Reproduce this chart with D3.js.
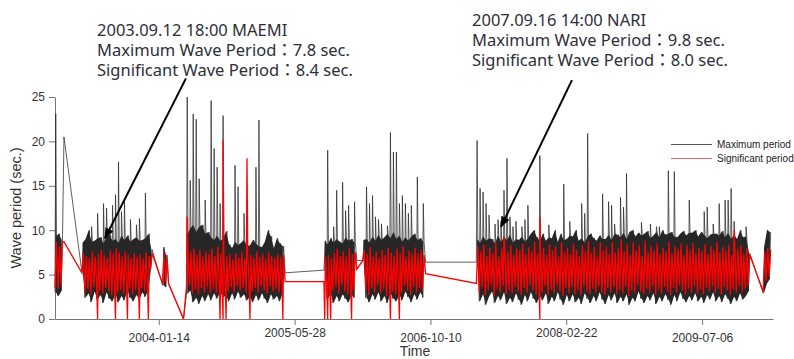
<!DOCTYPE html>
<html>
<head>
    <meta charset="utf-8" />
    <title>Wave period</title>
    <script src="https://d3js.org/d3.v7.min.js"></script>
    <style>
        body { margin: 0; background: #fff; }
        .axis path, .axis line { stroke: #777; }
        .axis text { font-family: "Liberation Sans", Arial, sans-serif; font-size: 12px; fill: #333; }
        .title { font-family: "Liberation Sans", Arial, sans-serif; fill: #333; }
        .maxBand { fill: #000; fill-opacity: 0.85; }
        .maxLine { fill: none; stroke: #2a2a2a; stroke-width: 0.75px; }
        .sigLine { fill: none; stroke: #f00; stroke-width: 1.3px; }
        .note { font-family: "Noto Sans", "Noto Sans CJK KR", sans-serif; font-size: 16.5px; fill: #2e2e38; }
        .legend text { font-family: "Liberation Sans", Arial, sans-serif; font-size: 10px; fill: #222; }
    </style>
</head>
<body>
<svg width="794" height="359"></svg>
<script>
    var _ = null;

    // low / high reading per 11-day bin; null = no record
    var binStart = "2002-12-28";
    var binDays = 11;

    var maxLo = [
        3.0, 2.6, 3.2, 20.5, _, _, _, _, _, 5.3,
        2.4, 2.9, 1.9, 3.1, 2.2, 2.7, 1.8, 3.0, 2.3, 2.0,
        2.8, 1.9, 2.6, 2.1, 3.2, 2.4, 2.0, 2.7, 2.2, 3.0,
        2.5, 3.3, 6.0, _, _, _, 3.8, 3.6, 4.0, _,
        _, _, _, 0, 2.8, 3.2, 1.9, 2.4, 1.7, 2.6,
        2.0, 2.8, 2.1, 2.9, 2.3, 3.0, 2.5, 2.6, 2.0, 2.9,
        2.2, 3.1, 2.4, 2.8, 2.1, 2.5, 1.9, 2.7, 2.1, 2.9,
        2.3, 1.8, 2.8, 2.2, 2.6, 2.0, 3.0, 5.2, _, _,
        _, _, _, _, _, _, _, _, _, _,
        5.5, 2.2, 2.9, 1.8, 2.6, 2.0, 2.8, 2.3, 1.9, 2.7,
        2.4, 6.6, _, 6.6, 2.4, 1.9, 2.8, 2.2, 3.0, 2.0,
        2.6, 1.8, 2.9, 2.3, 2.0, 2.7, 2.1, 3.1, 2.5, 1.9,
        2.8, 2.2, 3.0, 2.4, 6.4, _, _, _, _, _,
        _, _, _, _, _, _, _, _, _, _,
        _, 6.4, 2.0, 2.8, 1.6, 2.5, 3.1, 1.8, 2.6, 2.1,
        3.0, 1.7, 2.4, 1.9, 2.9, 2.2, 1.6, 2.7, 2.0, 3.0,
        2.3, 1.8, 2.6, 2.1, 2.9, 1.7, 2.5, 2.0, 3.0, 2.2,
        1.6, 2.7, 2.0, 2.8, 1.9, 2.4, 1.7, 2.9, 2.3, 1.8,
        2.6, 2.0, 3.0, 2.2, 1.7, 2.7, 2.1, 2.9, 1.8, 2.5,
        2.0, 2.8, 1.6, 2.4, 2.0, 3.1, 2.3, 1.8, 2.6, 2.1,
        2.9, 1.7, 2.5, 2.0, 2.8, 2.2, 1.6, 2.7, 2.0, 3.0,
        2.3, 1.9, 2.6, 2.1, 2.9, 2.0, 2.5, 1.8, 2.7, 2.2,
        3.0, 2.0, 2.6, 1.9, 2.8, 2.3, 1.7, 2.5, 2.0, 2.9,
        2.2, 2.6, 3.2, _, _, _, _, 2.9, 4.0, 4.5
    ];

    var maxHi = [
        9.3, 9.6, 8.9, _, _, _, _, _, _, 8.6,
        9.0, 10.0, 8.7, 8.8, 9.1, 9.2, 8.5, 9.3, 9.5, 8.8,
        9.0, 8.6, 9.4, 8.9, 9.4, 8.7, 9.0, 9.2, 8.8, 8.9,
        9.1, 9.6, 7.8, _, _, _, 8.1, 7.2, _, _,
        _, _, _, _, 9.4, 10.2, 10.6, 9.8, 10.4, 10.6,
        9.6, 9.8, 9.2, 8.9, 9.4, 8.8, 9.0, 9.9, 8.4, 8.0,
        8.7, 8.3, 8.6, 8.9, 8.2, 8.3, 8.9, 8.5, 8.2, 8.1,
        8.7, 10.0, 9.3, 8.0, 9.1, 8.5, 8.2, _, _, _,
        _, _, _, _, _, _, _, _, _, _,
        8.8, 8.4, 9.1, 8.6, 9.0, 8.7, 8.5, 9.2, 8.8, 9.0,
        8.6, _, _, 8.9, 9.0, 8.6, 9.3, 8.8, 9.5, 8.9,
        9.2, 9.6, 9.1, 9.8, 9.0, 9.4, 8.7, 9.2, 8.8, 9.3,
        9.6, 8.9, 9.1, 8.7, _, _, _, _, _, _,
        _, _, _, _, _, _, _, _, _, _,
        _, 9.0, 8.6, 9.3, 8.8, 9.1, 9.0, 8.5, 9.4, 8.7,
        9.2, 8.9, 9.5, 8.6, 9.0, 8.9, 9.3, 8.7, 9.1, 9.6,
        10.0, 9.2, 8.8, 9.6, 8.8, 9.2, 9.1, 10.0, 8.7, 9.6,
        8.9, 9.0, 9.4, 9.3, 10.0, 8.8, 9.1, 8.6, 9.3, 9.6,
        9.1, 8.8, 9.4, 9.0, 9.0, 9.5, 8.9, 9.6, 9.5, 9.2,
        9.7, 9.0, 9.8, 10.0, 9.3, 9.7, 9.4, 9.6, 9.9, 9.1,
        9.4, 9.8, 9.2, 10.0, 9.5, 9.6, 9.8, 9.3, 9.2, 9.6,
        9.9, 9.4, 9.7, 9.7, 10.0, 9.3, 9.8, 9.5, 9.1, 9.5,
        9.6, 9.6, 9.4, 9.9, 9.2, 9.7, 9.0, 9.5, 9.0, 10.0,
        9.2, 9.3, 7.4, _, _, _, _, 8.0, 10.0, 9.8
    ];

    // isolated peaks of the maximum period: [bin, seconds]
    var maxSpikes = [
        [0, 23.1], [12, 10.4], [14, 11.9], [16, 13.0], [17, 12.5], [19, 12.8], [20, 14.0], [21, 17.7],
        [22, 12.1], [23, 13.2], [25, 11.2], [27, 10.6], [28, 11.3], [30, 14.2],
        [44, 25.0], [45, 15.6], [46, 23.1], [47, 22.5], [48, 15.8], [50, 13.4], [52, 24.6], [53, 19.2],
        [54, 17.1], [55, 13.0], [56, 22.9], [60, 17.3], [61, 14.9], [63, 11.9], [67, 17.1], [68, 22.4],
        [91, 19.0], [93, 10.4], [94, 14.5], [96, 15.4], [97, 12.2], [98, 12.8], [100, 13.2],
        [104, 14.9], [105, 13.0], [106, 13.9], [107, 11.5], [108, 11.2], [109, 10.7], [111, 10.5],
        [112, 21.0], [113, 18.8], [114, 18.8], [115, 13.0], [116, 13.9], [117, 13.0], [118, 11.9],
        [119, 12.8], [121, 16.0], [123, 13.0],
        [141, 20.1], [142, 14.7], [143, 14.3], [144, 13.0], [145, 11.7], [147, 10.7], [148, 11.2],
        [149, 11.0], [150, 14.5], [151, 18.1], [152, 11.5], [153, 10.4], [154, 11.0], [156, 10.4],
        [157, 11.2], [158, 12.8], [162, 18.4], [165, 10.6], [170, 15.2], [172, 11.0], [176, 13.0],
        [177, 11.9], [178, 20.9], [183, 14.1], [185, 13.2], [186, 12.8], [187, 10.7], [189, 13.7],
        [190, 12.6], [191, 16.4], [196, 10.9], [199, 10.7], [201, 10.4], [202, 10.4], [205, 16.7],
        [207, 16.6], [212, 13.4], [217, 12.1], [218, 12.6], [220, 10.7], [222, 13.0], [224, 13.4],
        [225, 13.4], [226, 14.7], [227, 11.0], [231, 10.4]
    ];

    var sigLo = [
        3.5, 3.4, 3.8, 8.7, _, _, _, _, _, 5.2,
        3.0, 3.4, 2.8, 3.6, 3.3, 3.2, 2.9, 3.5, 3.1, 2.7,
        3.0, 3.0, 3.3, 2.9, 3.2, 3.4, 2.8, 3.3, 3.1, 3.5,
        3.1, 3.4, 5.6, _, _, _, 4.0, 4.1, 4.0, _,
        _, _, _, 0, 3.6, 3.8, 2.9, 3.3, 2.8, 3.5,
        3.0, 3.6, 2.9, 3.4, 3.0, 3.2, 3.0, 3.4, 3.1, 3.6,
        3.0, 3.7, 3.2, 3.5, 3.0, 3.3, 3.1, 3.5, 3.0, 3.7,
        3.2, 2.9, 3.6, 3.1, 3.4, 3.0, 3.5, 4.2, _, _,
        _, _, _, _, _, _, _, _, _, _,
        4.2, 3.4, 3.0, 3.2, 3.6, 2.9, 3.8, 3.1, 2.8, 3.2,
        3.3, 5.6, _, 6.6, 3.2, 2.7, 3.5, 3.0, 3.8, 2.9,
        3.4, 2.6, 3.3, 3.1, 2.8, 3.0, 3.0, 3.7, 3.2, 2.7,
        3.6, 3.0, 3.5, 3.1, 5.1, _, _, _, _, _,
        _, _, _, _, _, _, _, _, _, _,
        _, 4.0, 3.0, 3.6, 2.7, 3.3, 3.8, 2.6, 3.4, 3.0,
        3.7, 2.8, 3.2, 2.9, 3.6, 3.1, 2.7, 3.5, 3.0, 3.8,
        3.2, 2.8, 3.1, 3.0, 3.7, 2.7, 3.3, 3.0, 3.8, 3.1,
        2.6, 3.5, 2.9, 3.6, 2.8, 3.2, 2.7, 3.7, 3.1, 2.8,
        3.4, 3.0, 3.7, 3.0, 2.7, 3.5, 3.0, 3.6, 2.8, 3.3,
        2.9, 3.6, 2.6, 3.2, 3.0, 3.8, 3.1, 2.8, 3.4, 3.0,
        3.7, 2.7, 3.3, 2.9, 3.6, 3.1, 2.7, 3.5, 3.0, 3.8,
        3.2, 2.8, 3.4, 3.0, 3.7, 2.9, 3.3, 2.8, 3.5, 3.1,
        3.7, 3.0, 3.4, 2.8, 3.6, 3.2, 2.7, 3.3, 3.0, 3.7,
        3.1, 3.4, 3.8, _, _, _, _, 3.1, 4.3, 4.8
    ];

    var sigHi = [
        8.7, 8.2, 8.6, _, _, _, _, _, _, 7.4,
        7.1, 6.8, 7.6, 7.0, 7.3, 7.8, 7.2, 6.9, 7.7, 7.4,
        8.0, 7.5, 7.0, 7.6, 7.2, 6.9, 7.4, 7.0, 7.3, 6.8,
        7.5, 7.1, 7.4, _, _, _, 7.5, 6.8, _, _,
        _, _, _, _, 7.6, 7.6, 7.9, 7.2, 7.8, 7.0,
        7.6, 7.3, 7.9, 7.1, 8.2, 7.4, 7.3, 7.0, 7.3, 6.7,
        7.4, 6.9, 7.5, 6.8, 7.4, 7.2, 6.9, 7.6, 7.0, 7.4,
        6.8, 7.5, 7.1, 6.9, 7.3, 7.0, 7.2, _, _, _,
        _, _, _, _, _, _, _, _, _, _,
        7.0, 7.2, 6.8, 7.4, 7.9, 7.1, 7.6, 7.0, 8.0, 7.3,
        7.5, _, _, 7.8, 7.3, 8.1, 7.0, 7.6, 6.9, 7.8,
        7.2, 8.0, 7.5, 7.1, 7.9, 7.4, 8.2, 7.0, 7.7, 7.3,
        8.0, 7.4, 7.8, 7.2, _, _, _, _, _, _,
        _, _, _, _, _, _, _, _, _, _,
        _, 8.2, 7.6, 8.4, 7.1, 8.0, 7.4, 8.6, 7.0, 7.9,
        8.6, 7.5, 8.3, 7.2, 8.0, 7.7, 8.5, 7.3, 8.1, 7.6,
        8.7, 7.4, 7.8, 8.0, 7.2, 8.4, 7.7, 8.2, 7.0, 8.6,
        7.5, 8.0, 7.3, 8.5, 7.8, 7.1, 8.3, 7.6, 8.8, 7.4,
        8.1, 7.0, 8.6, 7.7, 8.2, 7.3, 8.7, 7.5, 8.0, 9.0,
        7.6, 8.4, 7.2, 8.6, 7.8, 8.3, 7.1, 8.8, 7.5, 8.2,
        7.7, 8.5, 7.3, 8.0, 7.6, 8.7, 7.4, 8.2, 7.9, 8.5,
        7.2, 8.3, 7.7, 8.6, 7.4, 8.0, 7.6, 8.4, 7.3, 8.2,
        7.8, 8.7, 7.5, 8.1, 7.7, 8.4, 7.2, 8.0, 7.9, 8.3,
        7.4, 8.0, 7.2, _, _, _, _, 7.5, 8.0, 7.8
    ];

    // drops to zero and peaks of the significant period: [bin, seconds]
    var sigSpikes = [
        [14, 0], [20, 0], [24, 0], [28, 0], [31, 0], [44, 11.5], [55, 0], [56, 0], [56, 20.1],
        [57, 0], [64, 18.1], [65, 0], [76, 0], [90, 0], [91, 0], [92, 0], [99, 0], [112, 0],
        [115, 0], [150, 9.3], [162, 0], [162, 11.5], [227, 10.0]
    ];

    var timeRange = ["2002-12-28", "2010-03-24"];
    var tickDates = ["2004-01-14", "2005-05-28", "2006-10-10", "2008-02-22", "2009-07-06"];
    var yTicks = [0, 5, 10, 15, 20, 25];
    var seriesNames = ["Maximum period", "Significant period"];

    var noteLines = [
        ["2003.09.12 18:00 MAEMI", "Maximum Wave Period：7.8 sec.", "Significant Wave Period：8.4 sec."],
        ["2007.09.16 14:00 NARI", "Maximum Wave Period：9.8 sec.", "Significant Wave Period：8.0 sec."]
    ];
    var arrowTails = [["2004-04-23", 27.1], ["2008-03-14", 26.9]];
    var arrowTips = [["2003-06-30", 9.1], ["2007-06-27", 10.4]];

    var parseDate = d3.utcParse("%Y-%m-%d");
    var svg = d3.select("svg");

    var x = d3.scaleUtc().domain(timeRange.map(parseDate)).range([55, 773]);
    var y = d3.scaleLinear().domain([0, 25]).range([319, 97]);

    function binTime(i, hours) {
        return d3.utcHour.offset(d3.utcDay.offset(parseDate(binStart), i * binDays), hours || 0);
    }

    function binRows(lo, hi) {
        return lo.map(function (v, i) { return { t: binTime(i, binDays * 6), lo: v, hi: hi[i] }; });
    }

    // lo, spikes, hi inside each bin, all bins joined
    function linePoints(lo, hi, spikes) {
        var byBin = d3.group(spikes, function (d) { return d[0]; });
        var pts = [];
        lo.forEach(function (v, i) {
            if (v != null) pts.push([binTime(i), v]);
            (byBin.get(i) || []).forEach(function (s) { pts.push([binTime(i, binDays * 6), s[1]]); });
            if (hi[i] != null) pts.push([binTime(i, binDays * 12), hi[i]]);
        });
        return pts;
    }

    var line = d3.line()
        .x(function (d) { return x(d[0]); })
        .y(function (d) { return y(d[1]); });

    var band = d3.area()
        .defined(function (d) { return d.lo != null && d.hi != null; })
        .x(function (d) { return x(d.t); })
        .y0(function (d) { return y(d.lo); })
        .y1(function (d) { return y(d.hi); });

    // axes
    var gx = svg.append("g")
        .attr("class", "axis")
        .attr("transform", "translate(0," + y(0) + ")")
        .call(d3.axisBottom(x).tickValues(tickDates.map(parseDate))
            .tickFormat(d3.utcFormat("%Y-%m-%d")).tickSize(6).tickSizeOuter(0));
    // labels are staggered
    gx.selectAll(".tick text")
        .attr("y", function (d, i) { return i % 2 ? 17.7 : 22.7; })
        .attr("dy", 0);

    svg.append("g")
        .attr("class", "axis")
        .attr("transform", "translate(" + x.range()[0] + ",0)")
        .call(d3.axisLeft(y).tickValues(yTicks).tickSize(6).tickSizeOuter(0).tickPadding(4));

    svg.append("text")
        .attr("class", "title")
        .attr("x", 415).attr("y", 356)
        .attr("text-anchor", "middle")
        .style("font-size", "14px")
        .text("Time");

    svg.append("text")
        .attr("class", "title")
        .attr("transform", "translate(21,208) rotate(-90)")
        .attr("text-anchor", "middle")
        .style("font-size", "14.5px")
        .text("Wave period (sec.)");

    // series
    svg.append("path")
        .datum(binRows(maxLo, maxHi))
        .attr("class", "maxBand")
        .attr("d", band);
    svg.append("path")
        .datum(linePoints(maxLo, maxHi, maxSpikes))
        .attr("class", "maxLine")
        .attr("d", line);

    svg.append("path")
        .datum(linePoints(sigLo, sigHi, sigSpikes))
        .attr("class", "sigLine")
        .attr("d", line);

    // legend
    var legend = svg.append("g").attr("class", "legend");
    var legendColors = ["#555", "#e8606a"];
    seriesNames.forEach(function (name, i) {
        var ly = 144.5 + i * 14;
        legend.append("line")
            .attr("x1", 671).attr("x2", 712)
            .attr("y1", ly).attr("y2", ly)
            .attr("stroke", legendColors[i]).attr("stroke-width", 1);
        legend.append("text")
            .attr("x", 717).attr("y", ly)
            .attr("dy", "0.35em")
            .text(name);
    });

    // annotations
    svg.append("defs").append("marker")
        .attr("id", "head")
        .attr("viewBox", "0 0 10 10")
        .attr("refX", 9).attr("refY", 5)
        .attr("markerWidth", 11).attr("markerHeight", 11)
        .attr("markerUnits", "userSpaceOnUse")
        .attr("orient", "auto")
        .append("path")
        .attr("d", "M0,1L10,5L0,9z")
        .attr("fill", "#000");

    var noteX = [97, 472];
    var noteY = [36, 26];
    noteLines.forEach(function (lines, k) {
        lines.forEach(function (s, j) {
            svg.append("text")
                .attr("class", "note")
                .attr("x", noteX[k])
                .attr("y", noteY[k] + j * 20.2)
                .text(s);
        });
        var a = arrowTails[k], b = arrowTips[k];
        svg.append("line")
            .attr("x1", x(parseDate(a[0]))).attr("y1", y(a[1]))
            .attr("x2", x(parseDate(b[0]))).attr("y2", y(b[1]))
            .attr("stroke", "#000")
            .attr("stroke-width", 2)
            .attr("marker-end", "url(#head)");
    });
</script>
</body>
</html>
